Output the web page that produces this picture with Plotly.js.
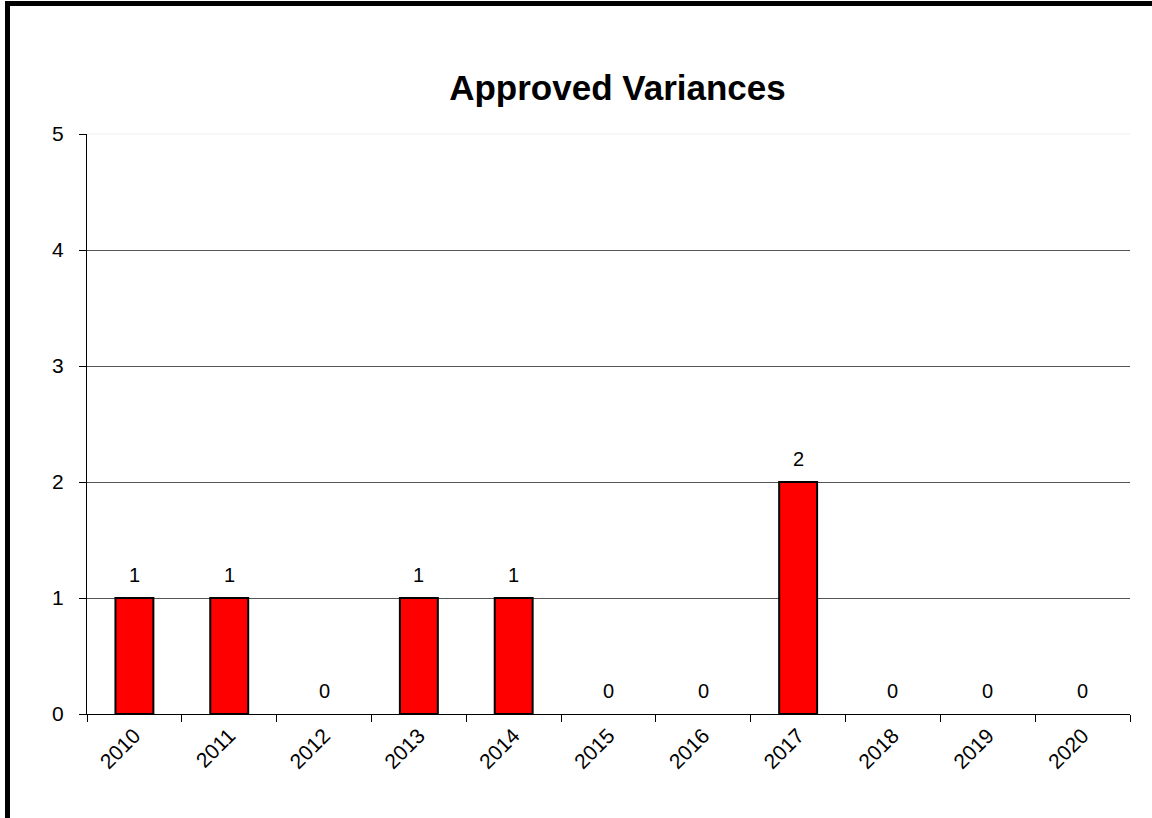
<!DOCTYPE html>
<html><head><meta charset="utf-8">
<script src="https://cdn.plot.ly/plotly-3.0.1.min.js"></script>
<style>
html,body{margin:0;padding:0;background:#fff;overflow:hidden;}
#chart{position:absolute;left:0;top:0;width:1152px;height:818px;}
#frame{position:absolute;left:5px;top:1px;width:1200px;height:900px;border-left:5px solid #000;border-top:5px solid #000;pointer-events:none;}
</style></head>
<body>
<div id="chart"></div>
<div id="frame"></div>
<script>
const years = ['2010','2011','2012','2013','2014','2015','2016','2017','2018','2019','2020'];
const variances = [1,1,0,1,1,0,0,2,0,0,0];
const yTicks = [0,1,2,3,4,5];
const titleText = 'Approved Variances';

const FONT = 'Liberation Sans, Arial, sans-serif';

const trace = {
  type: 'bar',
  x: years,
  y: variances,
  marker: {color: '#ff0000', line: {color: '#000000', width: variances.map(v => v > 0 ? 2 : 0)}},
  hoverinfo: 'x+y'
};

// category axes place annotations by category index
const annotations = years.map((yr, i) => ({
  x: i, y: variances[i], xref: 'x', yref: 'y',
  text: String(variances[i]), showarrow: false,
  yanchor: 'bottom', yshift: 10,
  font: {family: FONT, size: 20, color: '#000'}
}));

const layout = {
  width: 1152, height: 818,
  margin: {l: 87, r: 22, t: 134, b: 104},
  paper_bgcolor: '#ffffff', plot_bgcolor: '#ffffff',
  title: {text: '<b>' + titleText + '</b>', x: 0.536, xanchor: 'center', y: 0.893, yanchor: 'middle',
          font: {family: FONT, size: 35, color: '#000'}},
  bargap: 0.6,
  showlegend: false,
  xaxis: {
    type: 'category', tickson: 'boundaries', ticks: 'outside', ticklen: 7, tickcolor: '#000', tickwidth: 1,
    showline: true, linecolor: '#000', linewidth: 1, showgrid: false,
    tickangle: -45, tickfont: {family: FONT, size: 21, color: '#000'}
  },
  yaxis: {
    range: [0, 5], tickvals: yTicks, ticks: 'outside', ticklen: 7, tickcolor: '#000',
    showline: true, linecolor: '#000', linewidth: 1,
    showgrid: true, gridcolor: '#555555', gridwidth: 1, zeroline: false,
    tickfont: {family: FONT, size: 21, color: '#000'}, ticklabelstandoff: 11
  },
  shapes: [{type: 'line', xref: 'paper', yref: 'paper', x0: 0, x1: 1, y0: 1, y1: 1,
            line: {color: '#eeeeee', width: 1}}],
  annotations: annotations
};

Plotly.newPlot('chart', [trace], layout, {displayModeBar: false, staticPlot: true});
</script>
</body></html>
